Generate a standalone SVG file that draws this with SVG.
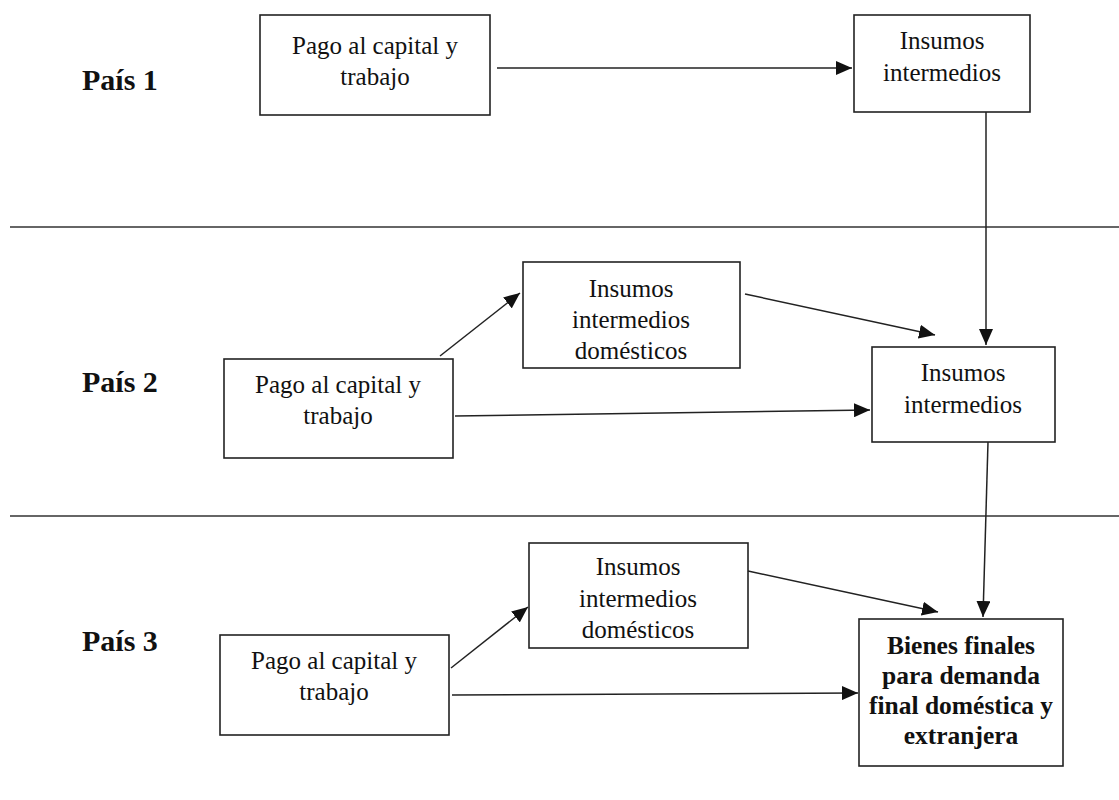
<svg xmlns="http://www.w3.org/2000/svg" width="1119" height="800" viewBox="0 0 1119 800">
<style>
.box{fill:#fff;stroke:#222;stroke-width:1.6}
.t{font-family:"Liberation Serif","Times New Roman",serif;font-size:25px;fill:#111;text-anchor:middle}
.b{font-family:"Liberation Serif","Times New Roman",serif;font-size:25.5px;font-weight:bold;fill:#111;text-anchor:middle}
.lab{font-family:"Liberation Serif","Times New Roman",serif;font-size:30px;font-weight:bold;fill:#111}
.c{stroke:#222;stroke-width:1.5;fill:none;marker-end:url(#ah)}
.div{stroke:#333;stroke-width:1.3}
</style>
<defs>
<marker id="ah" markerWidth="16" markerHeight="14" refX="16" refY="7" orient="auto" markerUnits="userSpaceOnUse">
<path d="M0,0 L16,7 L0,14 Z" fill="#111"/>
</marker>
</defs>
<rect width="1119" height="800" fill="#fff"/>
<g id="dividers">
<line class="div" x1="10" y1="227" x2="1119" y2="227"/>
<line class="div" x1="10" y1="516" x2="1119" y2="516"/>
</g>
<g id="labels">
<text class="lab" x="82" y="90">País 1</text>
<text class="lab" x="82" y="392">País 2</text>
<text class="lab" x="82" y="651">País 3</text>
</g>
<g id="p1-pago"><rect class="box" x="260" y="15" width="230" height="100"/>
<text class="t" x="375" y="54">Pago al capital y</text><text class="t" x="375" y="85">trabajo</text></g>
<g id="p1-insumos"><rect class="box" x="854" y="15" width="176" height="97"/>
<text class="t" x="942" y="49">Insumos</text><text class="t" x="942" y="81">intermedios</text></g>
<g id="p2-pago"><rect class="box" x="224" y="359" width="229" height="99"/>
<text class="t" x="338" y="393">Pago al capital y</text><text class="t" x="338" y="424">trabajo</text></g>
<g id="p2-dom"><rect class="box" x="523" y="262" width="217" height="106"/>
<text class="t" x="631" y="297">Insumos</text><text class="t" x="631" y="328">intermedios</text><text class="t" x="631" y="359">domésticos</text></g>
<g id="p2-insumos"><rect class="box" x="872" y="347" width="183" height="95"/>
<text class="t" x="963" y="381">Insumos</text><text class="t" x="963" y="413">intermedios</text></g>
<g id="p3-pago"><rect class="box" x="220" y="635" width="229" height="100"/>
<text class="t" x="334" y="669">Pago al capital y</text><text class="t" x="334" y="700">trabajo</text></g>
<g id="p3-dom"><rect class="box" x="529" y="543" width="219" height="105"/>
<text class="t" x="638" y="575">Insumos</text><text class="t" x="638" y="607">intermedios</text><text class="t" x="638" y="638">domésticos</text></g>
<g id="p3-bienes"><rect class="box" x="859" y="619" width="204" height="147"/>
<text class="b" x="961" y="654">Bienes finales</text><text class="b" x="961" y="684">para demanda</text><text class="b" x="961" y="714">final doméstica y</text><text class="b" x="961" y="744">extranjera</text></g>
<g id="connectors">
<line class="c" x1="497" y1="68" x2="852" y2="68"/>
<line class="c" x1="986" y1="112" x2="986" y2="345"/>
<line class="c" x1="440" y1="356" x2="520" y2="293"/>
<line class="c" x1="745" y1="294" x2="935" y2="335"/>
<line class="c" x1="455" y1="416" x2="870" y2="410"/>
<line class="c" x1="988" y1="442" x2="983" y2="617"/>
<line class="c" x1="451" y1="668" x2="528" y2="607"/>
<line class="c" x1="748" y1="571" x2="938" y2="612"/>
<line class="c" x1="452" y1="695" x2="858" y2="693"/>
</g>
</svg>
